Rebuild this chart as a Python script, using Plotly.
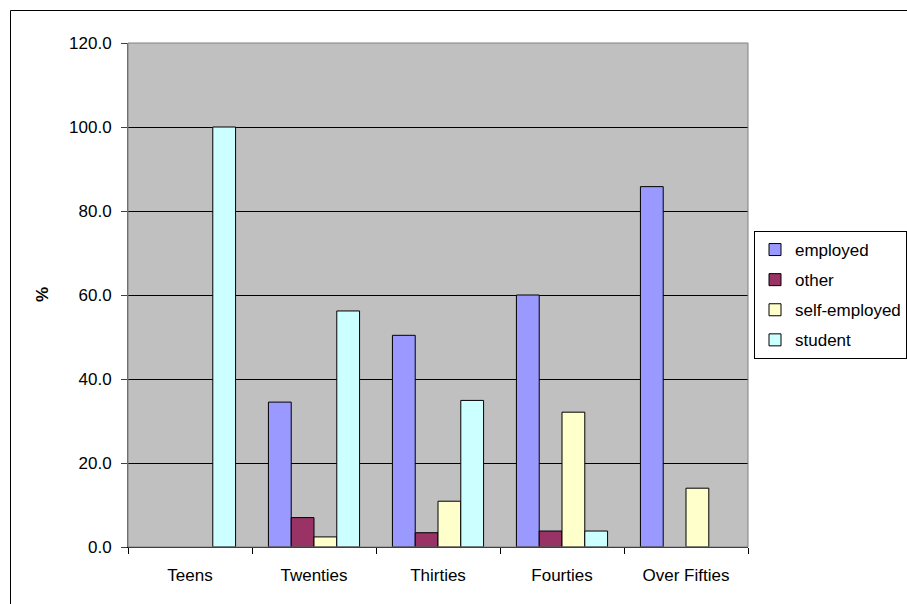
import plotly.graph_objects as go

# Age groups along the x axis
age_groups = ["Teens", "Twenties", "Thirties", "Fourties", "Over Fifties"]

# Share of each age group (%) by occupation status
employed = [None, 34.5, 50.4, 60.0, 85.8]
other = [None, 7.0, 3.4, 3.8, None]
self_employed = [None, 2.4, 10.9, 32.1, 14.0]
student = [100.0, 56.2, 34.9, 3.8, None]

y_ticks = [0, 20, 40, 60, 80, 100, 120]

series = [
    ("employed", employed, "#9999FF"),
    ("other", other, "#993366"),
    ("self-employed", self_employed, "#FFFFCC"),
    ("student", student, "#CCFFFF"),
]

W, H = 907, 604
L, R, T, B = 128, 159, 43, 57
plot_w = W - L - R
plot_h = H - T - B

FAMILY = "Liberation Sans, Arial, sans-serif"

fig = go.Figure()
for name, values, color in series:
    fig.add_trace(go.Bar(
        x=age_groups, y=values, name=name,
        marker=dict(color=color, line=dict(color="black", width=1)),
        legendgroup=name,
    ))

fig.update_layout(
    width=W, height=H,
    margin=dict(l=L, r=R, t=T, b=B, autoexpand=False),
    paper_bgcolor="white",
    plot_bgcolor="#C0C0C0",
    barmode="group",
    bargap=0.265,
    bargroupgap=0,
    font=dict(family=FAMILY, size=17, color="black"),
    showlegend=True,
    legend=dict(
        x=(754 - L) / plot_w, y=(547 - 231) / plot_h,
        xanchor="left", yanchor="top",
        bgcolor="white", bordercolor="black", borderwidth=1,
        font=dict(family=FAMILY, size=17),
        tracegroupgap=5,
        itemwidth=30,
    ),
    xaxis=dict(
        type="category",
        tickson="boundaries",
        ticks="outside", ticklen=6, tickcolor="black",
        showline=True, linecolor="black", linewidth=1,
        showgrid=False,
        ticklabelstandoff=13,
    ),
    yaxis=dict(
        range=[0, 120],
        tickvals=y_ticks,
        tickformat=".1f",
        ticks="outside", ticklen=6, tickcolor="#404040",
        showline=True, linecolor="#606060", linewidth=1,
        showgrid=True, gridcolor="black", gridwidth=1,
        zeroline=False,
        ticklabelstandoff=6,
    ),
)

# Grey frame around the plot area (top and right edges)
fig.add_shape(type="rect", xref="paper", yref="paper", x0=0, x1=1, y0=0, y1=1,
              line=dict(color="#808080", width=1), fillcolor="rgba(0,0,0,0)", layer="above")

# Outer chart border
fig.add_shape(type="rect", xref="paper", yref="paper",
              x0=(10.5 - L) / plot_w, x1=(W + 20 - L) / plot_w,
              y0=(547 - (H + 20)) / plot_h, y1=(547 - 10.5) / plot_h,
              line=dict(color="black", width=1), fillcolor="rgba(0,0,0,0)")

# Y axis title
fig.add_annotation(text="<b>%</b>", xref="paper", yref="paper",
                   x=(42 - L) / plot_w, y=0.5, xanchor="center", yanchor="middle",
                   textangle=-90, showarrow=False, font=dict(family=FAMILY, size=17))

fig.write_html("out.html")
